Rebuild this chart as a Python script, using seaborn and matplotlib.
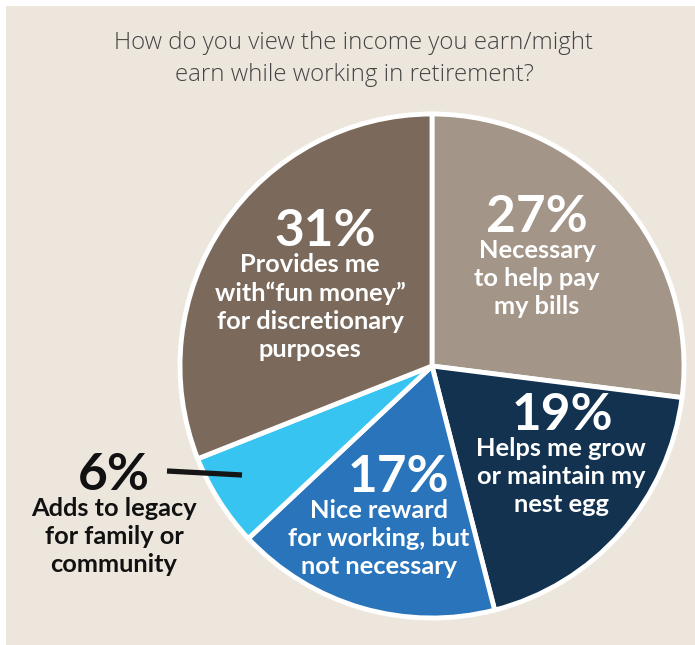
import matplotlib
matplotlib.use("Agg")
import matplotlib.pyplot as plt
from matplotlib.patches import Rectangle
import seaborn as sns

sns.set_style("white")
plt.rcParams["font.family"] = ["Lato", "DejaVu Sans"]

# Survey question and answers
title = "How do you view the income you earn/might\nearn while working in retirement?"
categories = [
    "Necessary\nto help pay\nmy bills",
    "Helps me grow\nor maintain my\nnest egg",
    "Nice reward\nfor working, but\nnot necessary",
    "Adds to legacy\nfor family or\ncommunity",
    "Provides me\nwith\u201cfun money\u201d\nfor discretionary\npurposes",
]
shares = [27, 19, 17, 6, 31]
palette = sns.color_palette(["#a39587", "#12324f", "#2a74bb", "#37c4f0", "#7b6a5c"])

W, H = 695, 645
fig = plt.figure(figsize=(W / 100, H / 100), dpi=100, facecolor="white")
ax = fig.add_axes([0, 0, 1, 1])

# beige panel
ax.add_patch(Rectangle((6, 0), W - 6, H - 6, facecolor="#ede6dd", edgecolor="none", zorder=0))

cx, cy, r = 432, H - 366, 252
wedges, _ = ax.pie(
    shares, colors=palette, startangle=90, counterclock=False,
    center=(cx, cy), radius=r, frame=True,
    wedgeprops=dict(edgecolor="white", linewidth=3.5),
)
ax.set_xlim(0, W)
ax.set_ylim(0, H)
ax.set_aspect("equal")
ax.axis("off")

ax.text(354, H - 59, title, ha="center", va="center", fontsize=17.3,
        family=["Open Sans", "DejaVu Sans"], fontweight="light",
        color="#444444", linespacing=1.4)

# label placement per slice: percentage centre, description centre x
pct_pos = [(537, 212), (562, 410), (398, 472), (114, 470), (325, 226)]
body_x = [537, 561, 379, 114, 310]
text_colors = ["white", "white", "white", "#111111", "white"]
for val, lab, (px, py), bx, col in zip(shares, categories, pct_pos, body_x, text_colors):
    ax.text(px, H - py - 5, f"{val}%", ha="center", va="center", fontsize=37,
            fontweight="bold", color=col)
    ax.text(bx, H - py - 27, lab, ha="center", va="top", fontsize=18.3,
            fontweight="bold", color=col, linespacing=1.27)

# leader line for the small slice
ax.plot([167, 242], [H - 471, H - 475], color="#151515", lw=3.8, solid_capstyle="butt")

fig.savefig("out.png", dpi=100, facecolor="white")
